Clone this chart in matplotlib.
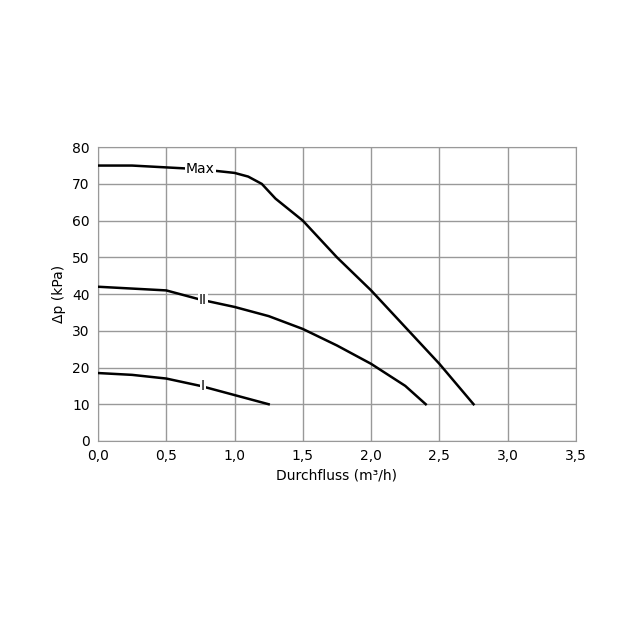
import matplotlib
matplotlib.use("Agg")
import matplotlib.pyplot as plt
import numpy as np

max_x = [0.0, 0.25, 0.5, 0.75, 1.0, 1.1, 1.2, 1.3, 1.5, 1.75, 2.0, 2.25, 2.5, 2.75]
max_y = [75, 75, 74.5, 74, 73, 72, 70, 66, 60, 50, 41, 31, 21, 10]
ii_x = [0.0, 0.25, 0.5, 0.75, 1.0, 1.25, 1.5, 1.75, 2.0, 2.25, 2.4]
ii_y = [42, 41.5, 41, 38.5, 36.5, 34, 30.5, 26, 21, 15, 10]
i_x = [0.0, 0.25, 0.5, 0.75, 1.0, 1.25]
i_y = [18.5, 18, 17, 15, 12.5, 10]
labels = ["Max", "II", "I"]
label_pos = [(0.75, 74), (0.77, 38.5), (0.77, 15)]

fig = plt.figure(figsize=(6.4, 6.4), dpi=100)
ax = fig.add_axes([0.153, 0.311, 0.747, 0.459])
for x, y in [(max_x, max_y), (ii_x, ii_y), (i_x, i_y)]:
    ax.plot(x, y, color="black", lw=1.8, zorder=3)
for t, (x, y) in zip(labels, label_pos):
    ax.text(x, y, t, ha="center", va="center", fontsize=10, zorder=4,
            bbox=dict(facecolor="white", edgecolor="none", pad=1))
ax.set_xlim(0, 3.5)
ax.set_ylim(0, 80)
xt = np.arange(0, 3.51, 0.5)
ax.set_xticks(xt)
ax.set_xticklabels([f"{v:.1f}".replace(".", ",") for v in xt])
ax.set_yticks(np.arange(0, 81, 10))
ax.grid(True, color="#999999", lw=1)
for s in ax.spines.values():
    s.set_color("#999999")
ax.tick_params(length=0, labelsize=10, pad=6)
ax.set_xlabel("Durchfluss (m³/h)", fontsize=10)
ax.set_ylabel("Δp (kPa)", fontsize=10)
fig.savefig("out.png", dpi=100, facecolor="white")
